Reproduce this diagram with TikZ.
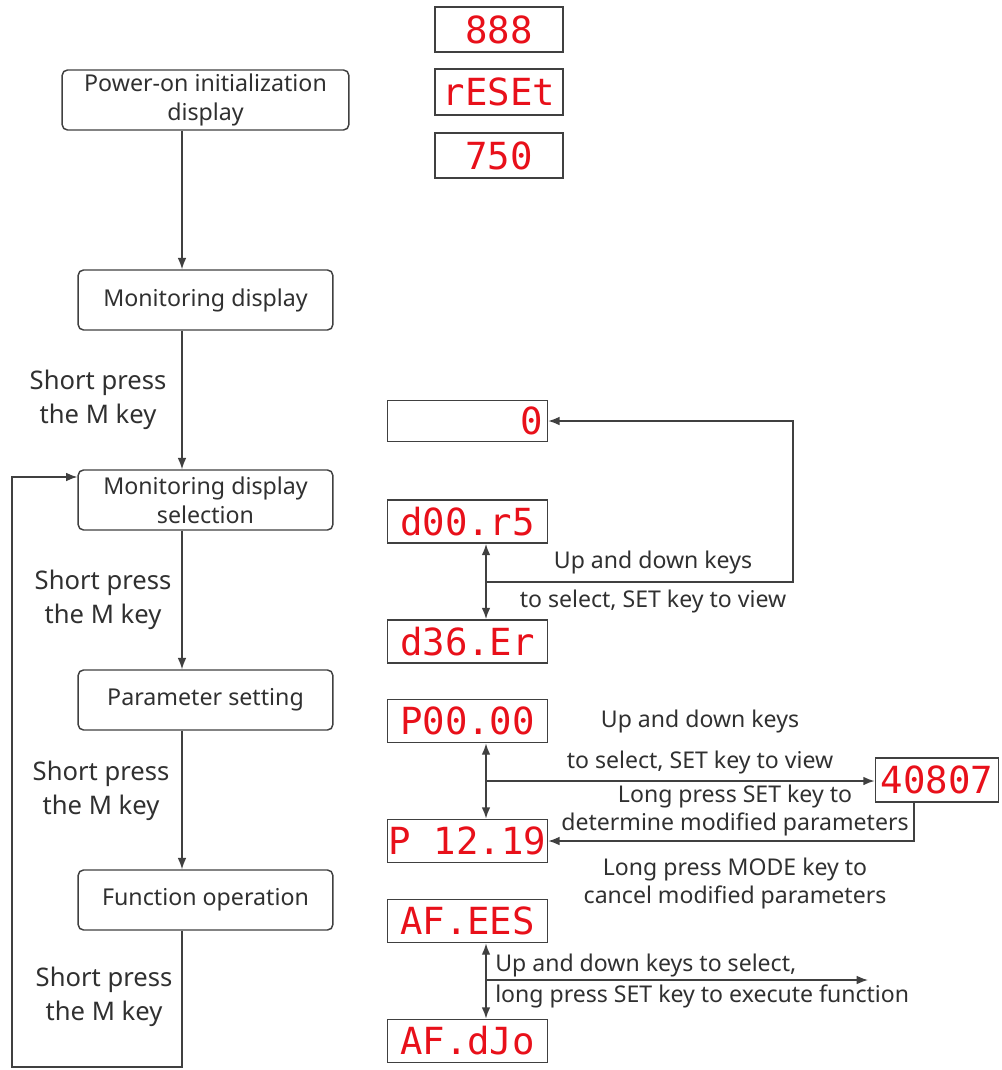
\documentclass[tikz,border=0pt]{standalone}
\usepackage{fontspec}
\setmainfont{Noto Sans}
\newfontfamily\segfont{DejaVu Sans Mono}
\usetikzlibrary{arrows.meta}
\definecolor{ln}{HTML}{404040}
\definecolor{tx}{HTML}{303030}
\definecolor{seg}{HTML}{E8101A}
\begin{document}
\begin{tikzpicture}[x=0.75pt,y=-0.75pt,
  flowbox/.style={draw=ln, line width=1.1pt, rounded corners=4pt, minimum width=191pt, minimum height=45pt, align=center, text=tx, font=\fontsize{17.4}{22}\selectfont, inner sep=0pt},
  disp/.style={draw=ln, line width=1.1pt, minimum width=120pt, minimum height=32.5pt, inner sep=0pt, text=seg, font=\segfont\fontsize{28}{28}\selectfont},
  lbl/.style={text=tx, font=\fontsize{19.2}{25.5}\selectfont, align=center, inner sep=0pt},
  slbl/.style={text=tx, font=\fontsize{17.3}{20}\selectfont, inner sep=0pt},
  arr/.style={draw=ln, line width=1.1pt, -{Latex[length=8.5pt,width=6.5pt]}},
  darr/.style={draw=ln, line width=1.1pt, {Latex[length=8.5pt,width=6.5pt]}-{Latex[length=8.5pt,width=6.5pt]}}
]
\useasboundingbox (0,0) rectangle (1002,1070);

% left flow
\node[flowbox, minimum width=215pt] (b1) at (205.5,100) {Power-on initialization\\display};
\node[flowbox] (b2) at (205.5,300) {Monitoring display};
\node[flowbox] (b3) at (205.5,500) {Monitoring display\\selection};
\node[flowbox] (b4) at (205.5,700) {Parameter setting};
\node[flowbox] (b5) at (205.5,900) {Function operation};

\coordinate (vx) at (182,0);
\draw[arr] (vx |- b1.south) -- (vx |- b2.north);
\draw[arr] (vx |- b2.south) -- (vx |- b3.north);
\draw[arr] (vx |- b3.south) -- (vx |- b4.north);
\draw[arr] (vx |- b4.south) -- (vx |- b5.north);
\coordinate (lb) at (182,1067);
\coordinate (ll) at (12,1067);
\coordinate (lt) at (12,477);
\draw[arr] (vx |- b5.south) -- (lb) -- (ll) -- (lt) -- (lt -| b3.west);

\node[lbl] (s1) at (98,400) {Short press\\the M key};
\node[lbl] (s2) at (103,600) {Short press\\the M key};
\node[lbl] (s3) at (101,791) {Short press\\the M key};
\node[lbl] (s4) at (104,997) {Short press\\the M key};

% top displays
\node[disp, minimum width=96pt, minimum height=33.5pt] (d888) at (499,29.5) {888};
\node[disp, minimum width=96pt, minimum height=34.5pt] (dreset) at (499,92) {rESEt};
\node[disp, minimum width=96pt, minimum height=33.5pt] (d750) at (499,155.5) {750};

% monitoring group
\node[disp, minimum height=31pt, text width=113pt, align=right] (dzero) at (467.5,421) {0};
\node[disp] (dd00) at (467.5,521.5) {d00.r5};
\node[disp] (dd36) at (467.5,641.5) {d36.Er};
\coordinate (v1) at (486,582);
\coordinate (c1) at (793,582);
\draw[darr] (v1 |- dd00.south) -- (v1 |- dd36.north);
\draw[arr] (v1) -- (c1) |- (dzero.east);
\node[slbl] (t1a) at (653,562) {Up and down keys};
\node[slbl] (t1b) at (653,601) {to select, SET key to view};

% parameter group
\node[disp] (dp00) at (467.5,721) {P00.00};
\node[disp] (dp12) at (467.5,841) {P 12.19};
\node[disp, minimum width=92.5pt, minimum height=33pt] (d408) at (937,780) {40807};
\coordinate (v2) at (486,781);
\draw[darr] (v2 |- dp00.south) -- (v2 |- dp12.north);
\draw[arr] (v2) -- (v2 -| d408.west);
\coordinate (c2) at (914,841);
\draw[arr] (c2 |- d408.south) -- (c2) -- (c2 -| dp12.east);
\node[slbl] (t2a) at (700,721) {Up and down keys};
\node[slbl] (t2b) at (700,762) {to select, SET key to view};
\node[slbl] (t2c) at (735,796) {Long press SET key to};
\node[slbl] (t2d) at (735,824) {determine modified parameters};
\node[slbl] (t2e) at (735,869) {Long press MODE key to};
\node[slbl] (t2f) at (735,897) {cancel modified parameters};

% function group
\node[disp] (daf1) at (467.5,921) {AF.EES};
\node[disp] (daf2) at (467.5,1041) {AF.dJo};
\coordinate (v3) at (486,980);
\coordinate (e3) at (868,980);
\draw[darr] (v3 |- daf1.south) -- (v3 |- daf2.north);
\draw[arr] (v3) -- (e3);
\node[slbl, anchor=west] (t3a) at (495,965) {Up and down keys to select,};
\node[slbl, anchor=west] (t3b) at (495,996) {long press SET key to execute function};
\end{tikzpicture}
\end{document}
